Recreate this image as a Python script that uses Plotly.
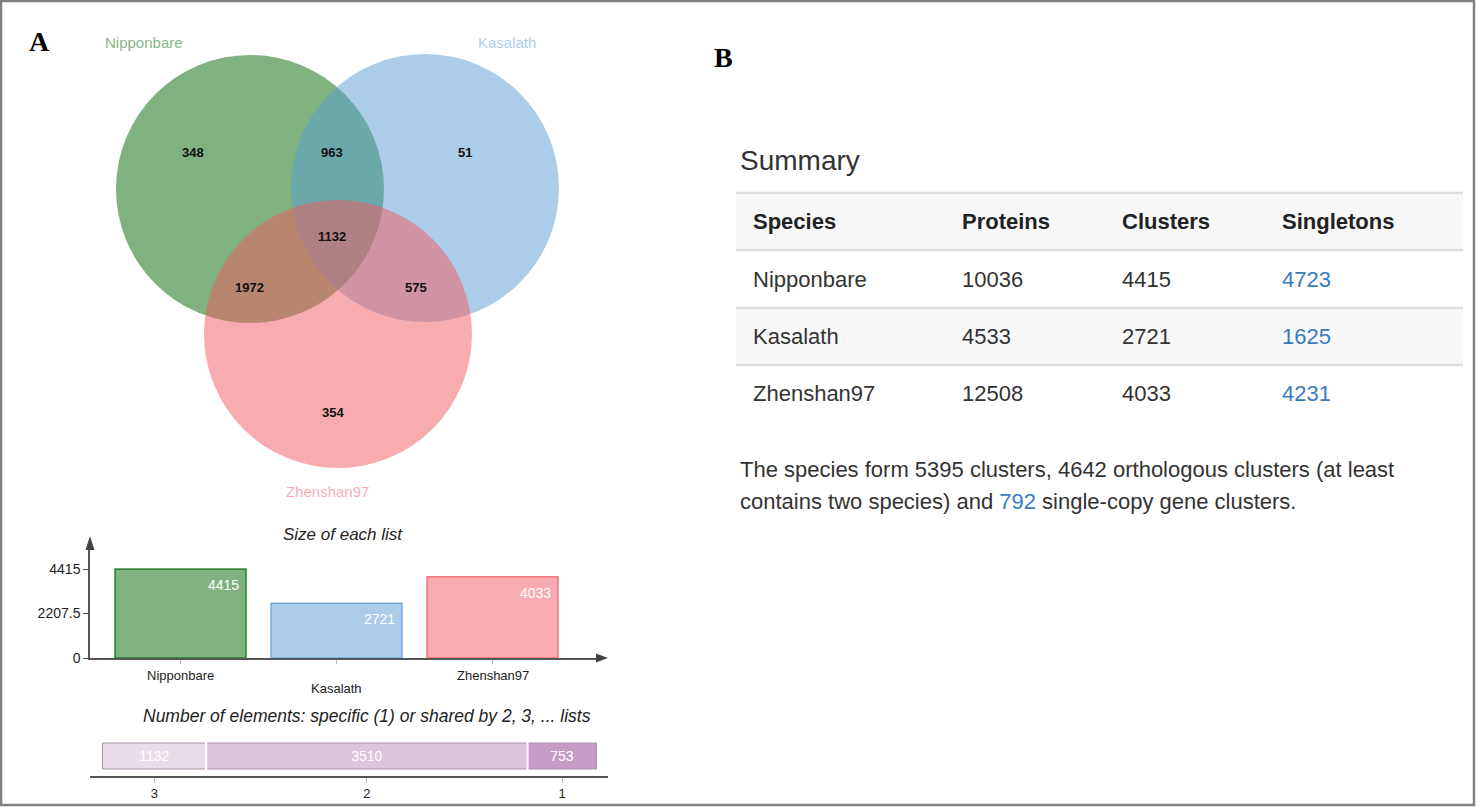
import plotly.graph_objects as go

W, H = 1476, 807

# ---- data ----
set_names = ["Nipponbare", "Kasalath", "Zhenshan97"]
venn_regions = ["N", "K", "Z", "NK", "NZ", "KZ", "NKZ"]
venn_counts = [348, 51, 354, 963, 1972, 575, 1132]

list_names = ["Nipponbare", "Kasalath", "Zhenshan97"]
list_sizes = [4415, 2721, 4033]
size_ticks = [0, 2207.5, 4415]

shared_labels = ["3", "2", "1"]
shared_counts = [1132, 3510, 753]

table_header = ["Species", "Proteins", "Clusters", "Singletons"]
species = ["Nipponbare", "Kasalath", "Zhenshan97"]
proteins = [10036, 4533, 12508]
clusters = [4415, 2721, 4033]
singletons = [4723, 1625, 4231]

n_clusters = 5395
n_orthologous = 4642
n_single_copy = 792

# ---- style ----
SANS = "Liberation Sans"
SERIF = "Liberation Serif"
TXT = "#333333"
LINK = "#3a7bbf"
base_rgb = [(0, 102, 0), (90, 155, 212), (241, 90, 96)]


def rgba(c, a):
    return "rgba(%d,%d,%d,%s)" % (c[0], c[1], c[2], a)


def px(x):
    return x / W


def py(y):
    return 1 - y / H


shapes = []
annotations = []


def note(x, y, text, size, color=TXT, xanchor="center", family=SANS):
    annotations.append(dict(
        x=px(x), y=py(y), xref="paper", yref="paper", text=text,
        showarrow=False, xanchor=xanchor, yanchor="middle",
        font=dict(family=family, size=size, color=color)))


# ---- panel letters ----
note(39, 42, "<b>A</b>", 28, "#000000", family=SERIF)
note(723, 57, "<b>B</b>", 28, "#000000", family=SERIF)

# ---- Venn diagram ----
circle_xy = [(250, 189), (425, 188), (338, 334)]
radius = 134
for (cx, cy), c in zip(circle_xy, base_rgb):
    shapes.append(dict(
        type="circle", xref="paper", yref="paper",
        x0=px(cx - radius), x1=px(cx + radius),
        y0=py(cy + radius), y1=py(cy - radius),
        fillcolor=rgba(c, 1), opacity=0.5, line=dict(width=0), layer="above"))

set_label_xy = [(144, 43), (507, 43), (327, 491)]
for name, (x, y), c in zip(set_names, set_label_xy, base_rgb):
    note(x, y, name, 15, rgba(c, 0.5))

region_xy = [(193, 152), (465, 152), (333, 413), (332, 152),
             (249, 287), (416, 287), (332, 237)]
for cnt, (x, y) in zip(venn_counts, region_xy):
    note(x, y, "<b>%d</b>" % cnt, 13, "#111111")

# ---- size of each list ----
fig = go.Figure()
fig.add_trace(go.Bar(
    x=list(range(len(list_names))), y=list_sizes, width=0.84,
    marker=dict(color=[rgba(c, 0.5) for c in base_rgb],
                line=dict(color=[rgba(c, 0.75) for c in base_rgb], width=1.5)),
    hoverinfo="skip", xaxis="x", yaxis="y"))

for i, (name, val) in enumerate(zip(list_names, list_sizes)):
    annotations.append(dict(
        x=i, y=val, xref="x", yref="y", text=str(val), showarrow=False,
        xanchor="right", yanchor="top", xshift=60, yshift=-6,
        font=dict(family=SANS, size=14, color="white")))
    annotations.append(dict(
        x=i, y=0, xref="x", yref="y", text=name, showarrow=False,
        xanchor="center", yanchor="top", yshift=-8 if i != 1 else -21,
        font=dict(family=SANS, size=13, color="#222222")))

note(343, 534, "<i>Size of each list</i>", 17, "#222222")
# axis arrowheads
shapes.append(dict(type="path", xref="paper", yref="paper",
                   path="M %f %f L %f %f L %f %f Z" % (px(90), py(536), px(85.5), py(550), px(94.5), py(550)),
                   fillcolor="#444444", line=dict(width=0)))
shapes.append(dict(type="path", xref="paper", yref="paper",
                   path="M %f %f L %f %f L %f %f Z" % (px(608), py(658), px(596), py(653.5), px(596), py(662.5)),
                   fillcolor="#444444", line=dict(width=0)))

# ---- shared elements ----
bases = [sum(shared_counts[:i]) for i in range(len(shared_counts))]
mids = [b + v / 2 for b, v in zip(bases, shared_counts)]
fig.add_trace(go.Bar(
    x=shared_counts, y=[0] * len(shared_counts), base=bases, orientation="h", width=26,
    marker=dict(color=["#e9dde9", "#dbc6db", "#c69cc6"], line=dict(color="#a793a7", width=1)),
    text=[str(v) for v in shared_counts], textposition="inside", insidetextanchor="middle",
    textangle=0, constraintext="none",
    textfont=dict(family=SANS, size=14, color="white"),
    hoverinfo="skip", xaxis="x2", yaxis="y2"))
# small white gaps between the segments
for b in bases[1:]:
    shapes.append(dict(type="line", xref="x2", yref="y2", x0=b, x1=b, y0=-14, y1=14,
                       line=dict(color="white", width=2)))
note(367, 716, "<i>Number of elements: specific (1) or shared by 2, 3, ... lists</i>", 17.5, "#222222")

# ---- summary table ----
note(738, 160, "Summary", 28, xanchor="left")
tx0, tx1 = 736, 1463
row_edges = [193, 250, 308, 365, 423]
col_x = [751, 960, 1120, 1280]
for k in (0, 2):
    shapes.append(dict(type="rect", xref="paper", yref="paper", layer="below",
                       x0=px(tx0), x1=px(tx1), y0=py(row_edges[k + 1]), y1=py(row_edges[k]),
                       fillcolor="#f8f8f8", line=dict(width=0)))
for y in row_edges[:4]:
    shapes.append(dict(type="line", xref="paper", yref="paper",
                       x0=px(tx0), x1=px(tx1), y0=py(y), y1=py(y),
                       line=dict(color="#dedede", width=2.5)))

for j, h in enumerate(table_header):
    note(col_x[j], (row_edges[0] + row_edges[1]) / 2, "<b>%s</b>" % h, 22, "#222222", xanchor="left")
for r in range(len(species)):
    yc = (row_edges[r + 1] + row_edges[r + 2]) / 2
    vals = [species[r], proteins[r], clusters[r], singletons[r]]
    for j, v in enumerate(vals):
        note(col_x[j], yc, str(v), 22, LINK if j == 3 else TXT, xanchor="left")

note(738, 469, "The species form %d clusters, %d orthologous clusters (at least"
     % (n_clusters, n_orthologous), 22, xanchor="left")
note(738, 501, "contains two species) and <span style='color:%s'>%d</span> single-copy gene clusters."
     % (LINK, n_single_copy), 22, xanchor="left")

# ---- outer frame ----
shapes.append(dict(type="rect", xref="paper", yref="paper",
                   x0=px(1), x1=px(1474), y0=py(805), y1=py(1),
                   line=dict(color="#808080", width=2.5)))

s = 494 / sum(shared_counts)  # pixels per element on the stacked bar

fig.update_layout(
    width=W, height=H, margin=dict(l=0, r=0, t=0, b=0, autoexpand=False),
    paper_bgcolor="white", plot_bgcolor="rgba(0,0,0,0)",
    showlegend=False, shapes=shapes, annotations=annotations,
    xaxis=dict(domain=[px(90), px(600)], range=[(90 - 180.5) / 156, (600 - 180.5) / 156],
               anchor="y", showline=True, linecolor="#555555", linewidth=1.5, automargin=False,
               tickvals=[0, 1, 2], showticklabels=False, ticks="outside", ticklen=4,
               tickcolor="#bbbbbb", showgrid=False, zeroline=False, fixedrange=True),
    yaxis=dict(domain=[py(658), py(545)], range=[0, list_sizes[0] * (658 - 545) / 89],
               anchor="x", showline=True, linecolor="#555555", linewidth=1.5, automargin=False,
               tickvals=size_ticks, ticktext=["0", "2207.5", "4415"], ticks="outside",
               ticklen=5, tickcolor="#555555", showgrid=False, zeroline=False,
               tickfont=dict(family=SANS, size=14, color="#222222"), fixedrange=True),
    xaxis2=dict(domain=[px(90), px(607.5)],
                range=[-12.5 / s, sum(shared_counts) + 11 / s],
                anchor="y2", showline=True, linecolor="#555555", linewidth=1.5, automargin=False,
                tickvals=mids, ticktext=shared_labels, ticks="outside", ticklen=5,
                tickcolor="#bbbbbb", showgrid=False, zeroline=False,
                tickfont=dict(family=SANS, size=13, color="#222222"), fixedrange=True),
    yaxis2=dict(domain=[py(776), py(736)], range=[-20, 20], anchor="x2", automargin=False,
                visible=False, fixedrange=True),
)

fig.write_html(
    "out.html", config={"displayModeBar": False},
    post_script=(
        "document.documentElement.style.overflow='hidden';"
        "document.body.style.margin='0';"
        "document.body.style.overflow='hidden';"
    ))
